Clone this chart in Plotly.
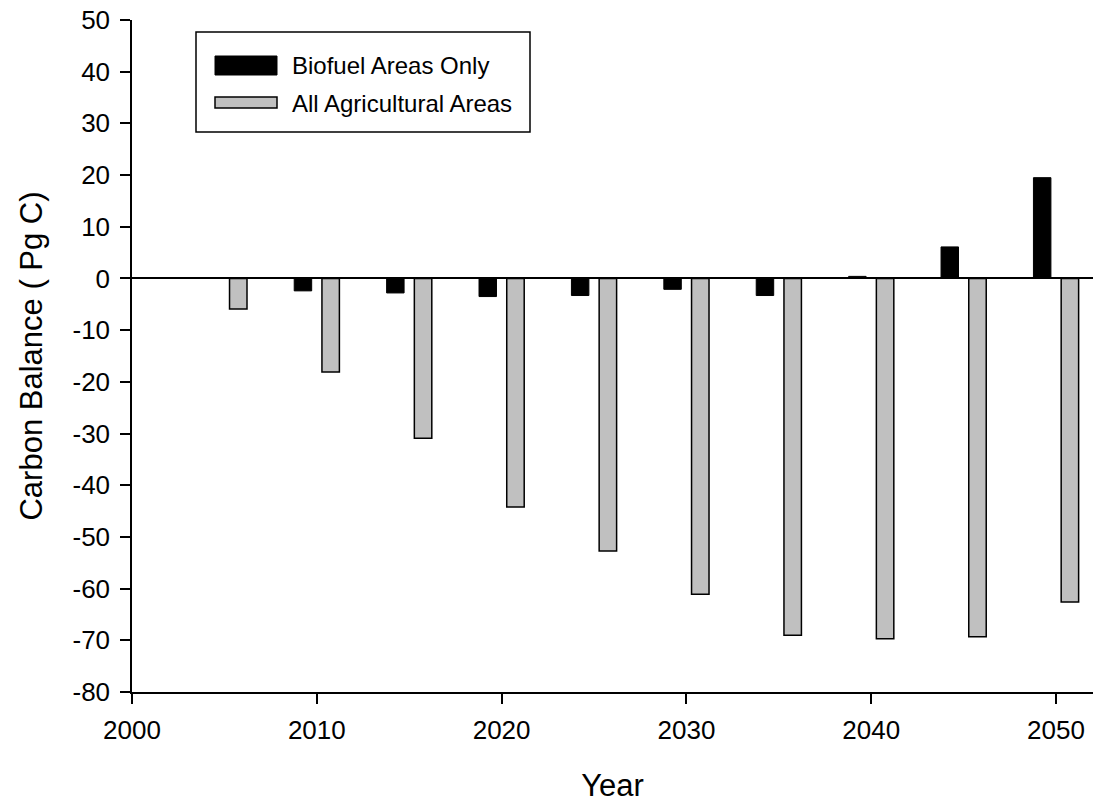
import plotly.graph_objects as go

# Carbon balance (Pg C) by year for two land-area scenarios
years = [2005, 2010, 2015, 2020, 2025, 2030, 2035, 2040, 2045, 2050]
biofuel_only = [None, -2.4, -2.8, -3.5, -3.3, -2.1, -3.3, 0.4, 6.1, 19.5]
all_agricultural = [-5.9, -18.1, -30.9, -44.2, -52.7, -61.1, -69.0, -69.7, -69.3, -62.6]

series_names = ["Biofuel Areas Only", "All Agricultural Areas"]
x_ticks = [2000, 2010, 2020, 2030, 2040, 2050]
y_ticks = list(range(-80, 51, 10))
y_tick_text = [str(v) for v in y_ticks]  # plain hyphen for negatives

FONT = "Liberation Sans, Arial, sans-serif"

fig = go.Figure()
fig.add_trace(go.Bar(
    x=years, y=biofuel_only, name=series_names[0],
    marker=dict(color="#000000", line=dict(color="#000000", width=1)),
    showlegend=False,
))
fig.add_trace(go.Bar(
    x=years, y=all_agricultural, name=series_names[1],
    marker=dict(color="#c0c0c0", line=dict(color="#000000", width=1.5)),
    showlegend=False,
))

# Boxed legend in the upper-left corner of the plot area
W, H = 1093, 804
L, R, T, B = 132, 0, 20, 112
pw, ph = W - L - R, H - T - B


def px(x):
    return (x - L) / pw


def py(y):
    return 1 - (y - T) / ph


shapes = [
    dict(type="rect", xref="paper", yref="paper",
         x0=px(196), x1=px(530), y0=py(132), y1=py(32),
         line=dict(color="#000000", width=1.5), fillcolor="rgba(0,0,0,0)"),
    dict(type="rect", xref="paper", yref="paper",
         x0=px(215), x1=px(277), y0=py(75), y1=py(56),
         line=dict(color="#000000", width=1), fillcolor="#000000"),
    dict(type="rect", xref="paper", yref="paper",
         x0=px(215), x1=px(277), y0=py(108), y1=py(97),
         line=dict(color="#000000", width=1.5), fillcolor="#c0c0c0"),
]
annotations = [
    dict(xref="paper", yref="paper", x=px(290), y=py(66), text=series_names[0],
         showarrow=False, xanchor="left", yanchor="middle",
         font=dict(family=FONT, size=24, color="#000000")),
    dict(xref="paper", yref="paper", x=px(290), y=py(103), text=series_names[1],
         showarrow=False, xanchor="left", yanchor="middle",
         font=dict(family=FONT, size=24, color="#000000")),
]

fig.update_layout(
    width=W, height=H,
    margin=dict(l=L, r=R, t=T, b=B, autoexpand=False),
    paper_bgcolor="#ffffff", plot_bgcolor="#ffffff",
    barmode="group", bargap=0.4, bargroupgap=0.37,
    font=dict(family=FONT, size=26, color="#000000"),
    shapes=shapes, annotations=annotations,
)
fig.update_xaxes(
    range=[2000, 2052], tickvals=x_ticks, ticktext=[str(t) for t in x_ticks],
    showgrid=False, zeroline=False, showline=True, linecolor="#000000", linewidth=1.5,
    ticks="outside", ticklen=10, tickwidth=1.5, tickcolor="#000000",
    tickfont=dict(size=26), ticklabelstandoff=4, automargin=False,
    title=dict(text="Year", font=dict(size=31), standoff=30),
)
fig.update_yaxes(
    range=[-80, 50], tickvals=y_ticks, ticktext=y_tick_text,
    showgrid=False, zeroline=True, zerolinecolor="#000000", zerolinewidth=1.5,
    showline=True, linecolor="#000000", linewidth=1.5,
    ticks="outside", ticklen=10, tickwidth=1.5, tickcolor="#000000",
    tickfont=dict(size=26), ticklabelstandoff=5, automargin=False,
    title=dict(text="Carbon Balance ( Pg C)", font=dict(size=31), standoff=21),
)

fig.write_html("out.html")
